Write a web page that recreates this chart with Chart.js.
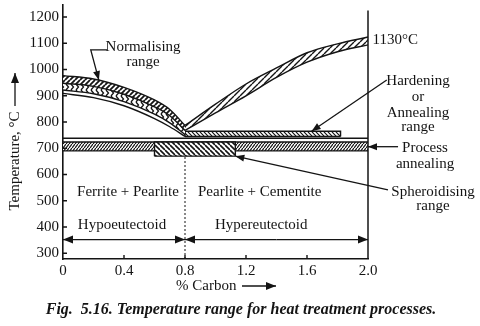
<!DOCTYPE html>
<html lang="en">
<head>
<meta charset="utf-8" />
<script src="https://cdn.jsdelivr.net/npm/chart.js@4.4.1/dist/chart.umd.min.js"></script>
<style>
  body { margin: 0; background: #fff; }
  #box { width: 480px; height: 326px; }
</style>
<title>Temperature range for heat treatment</title>
</head>
<body>
<div id="box"><canvas id="fig"></canvas></div>
<script>
// values: x = % carbon, y = temperature in °C
const carbonTicks = [0, 0.4, 0.8, 1.2, 1.6, 2.0];
const tempTicks = [300, 400, 500, 600, 700, 800, 900, 1000, 1100, 1200];
const tempMin = 278, tempMax = 1246, rightLineTop = 1225;

// hypoeutectoid side: A3 line, full annealing band, normalising band
const hypoC = [0, 0.2, 0.4, 0.6, 0.7, 0.8];
const a3Temp = [909, 893, 862, 813, 782, 745];
const annealLow = [922, 908, 878, 830, 797, 752];
const annealHigh = [948, 936, 906, 858, 824, 768];
const normalHigh = [977, 964, 932, 884, 848, 787];

// hypereutectoid side: Acm band up to 1130 °C
const hyperC = [0.8, 1.0, 1.2, 1.4, 1.6, 1.8, 2.0];
const acmLow = [768, 835, 900, 970, 1028, 1068, 1094];
const acmHigh = [787, 868, 945, 1006, 1064, 1098, 1124];

// straight bands: [from %C, to %C, low °C, high °C]
const hardening = [0.8, 1.82, 745, 765];
const processAnneal = [0, 2.0, 690, 724];
const spheroidise = [0.6, 1.13, 670, 724];
const a1Temp = 738;
const eutectoidC = 0.8;
const rangeArrowTemp = 352;

const INK = '#141414';
const FONT = '"Liberation Serif", "Times New Roman", serif';
const ctx = document.getElementById('fig').getContext('2d');

// hatch tiles, '/' or '\' lines on white
function hatch(w, h, lw, back) {
  const c = document.createElement('canvas');
  c.width = w; c.height = h;
  const g = c.getContext('2d');
  g.fillStyle = '#fff'; g.fillRect(0, 0, w, h);
  g.strokeStyle = INK; g.lineWidth = lw;
  g.beginPath();
  for (const k of [-1, 0, 1]) {
    if (back) { g.moveTo(0, k * h); g.lineTo(w, (k + 1) * h); }
    else { g.moveTo(0, (k + 1) * h); g.lineTo(w, k * h); }
  }
  g.stroke();
  return ctx.createPattern(c, 'repeat');
}
function chevron(w, h, lw) {
  const c = document.createElement('canvas');
  c.width = w; c.height = h;
  const g = c.getContext('2d');
  g.fillStyle = '#fff'; g.fillRect(0, 0, w, h);
  g.strokeStyle = INK; g.lineWidth = lw;
  g.beginPath();
  g.moveTo(1, 0); g.lineTo(w * 0.7, h / 2); g.lineTo(1, h);
  g.stroke();
  return ctx.createPattern(c, 'repeat');
}

const xy = (xs, ys) => xs.map((x, i) => ({ x, y: ys[i] }));
const lowEdge = b => xy([b[0], b[1]], [b[2], b[2]]);
const highEdge = b => xy([b[0], b[1]], [b[3], b[3]]);
const box = b => xy([b[0], b[0], b[1], b[1]], [b[2], b[3], b[3], b[2]]);

// rank = drawing sequence (0 first)
function curve(data, rank, extra) {
  return Object.assign({
    data, order: -rank, borderColor: INK, borderWidth: 1.4,
    pointRadius: 0, fill: false, clip: false
  }, extra);
}
const mono = { cubicInterpolationMode: 'monotone' };

const datasets = [
  curve(xy([eutectoidC, eutectoidC], [tempMin, spheroidise[2]]), 0, { borderDash: [2, 2], borderWidth: 1 }),
  curve(lowEdge(processAnneal), 2),
  curve(highEdge(processAnneal), 1, { fill: '-1', backgroundColor: hatch(3, 4, 1.2, false) }),
  curve(lowEdge(spheroidise), 4),
  curve(box(spheroidise), 3, { fill: '-1', backgroundColor: hatch(5, 5, 1.6, true) }),
  curve(xy([0, 2.0], [a1Temp, a1Temp]), 5),
  curve(lowEdge(hardening), 7),
  curve(box(hardening), 6, { fill: '-1', backgroundColor: hatch(4, 4, 1.2, true) }),
  curve(xy(hypoC, a3Temp), 8, mono),
  curve(xy(hypoC, annealLow), 11, mono),
  curve(xy(hypoC, annealHigh), 10, Object.assign({ fill: '-1', backgroundColor: chevron(5, 6, 1.3) }, mono)),
  curve(xy(hypoC, normalHigh), 9, Object.assign({ fill: '-1', backgroundColor: hatch(5, 5, 1.8, false) }, mono)),
  curve(xy(hyperC, acmLow), 13, mono),
  curve(xy(hyperC, acmHigh), 12, Object.assign({ fill: '-1', backgroundColor: hatch(6, 6, 1.4, false) }, mono)),
  curve(xy([2.0, 2.0], [tempMin, rightLineTop]), 14, { borderWidth: 1.5 })
];

// text labels, placed in data units (c = %C, t = °C)
const notes = [
  { text: 'Ferrite + Pearlite', c: 0.426, t: 535 },
  { text: 'Pearlite + Cementite', c: 1.29, t: 535 },
  { text: 'Hypoeutectoid', c: 0.387, t: 408 },
  { text: 'Hypereutectoid', c: 1.30, t: 408 },
  { text: 'Normalising', c: 0.525, t: 1086 },
  { text: 'range', c: 0.525, t: 1029 },
  { text: '1130°C', c: 2.03, t: 1113, align: 'left' },
  { text: 'Hardening', c: 2.328, t: 957 },
  { text: 'or', c: 2.328, t: 895 },
  { text: 'Annealing', c: 2.328, t: 836 },
  { text: 'range', c: 2.328, t: 779 },
  { text: 'Process', c: 2.374, t: 700 },
  { text: 'annealing', c: 2.374, t: 640 },
  { text: 'Spheroidising', c: 2.426, t: 533 },
  { text: 'range', c: 2.426, t: 478 }
];
const pointers = [
  [[0.29, 1075], [0.182, 1075], [0.235, 960]],
  [[2.123, 960], [1.63, 765]],
  [[2.197, 706], [2.0, 706]],
  [[2.131, 541], [1.13, 670]]
];
const spans = [[0, eutectoidC], [eutectoidC, 2.0]];

function arrow(g, pts, head = 9, half = 3.5) {
  g.beginPath();
  g.moveTo(pts[0][0], pts[0][1]);
  pts.slice(1).forEach(p => g.lineTo(p[0], p[1]));
  g.stroke();
  const [x1, y1] = pts[pts.length - 2], [x2, y2] = pts[pts.length - 1];
  const a = Math.atan2(y2 - y1, x2 - x1), cs = Math.cos(a), sn = Math.sin(a);
  g.beginPath();
  g.moveTo(x2, y2);
  g.lineTo(x2 - head * cs + half * sn, y2 - head * sn - half * cs);
  g.lineTo(x2 - head * cs - half * sn, y2 - head * sn + half * cs);
  g.closePath();
  g.fill();
}

const decor = {
  id: 'decor',
  afterDraw(chart) {
    const { ctx: g, chartArea: a, scales: { x, y } } = chart;
    const X = v => x.getPixelForValue(v), Y = v => y.getPixelForValue(v);
    g.save();
    g.strokeStyle = g.fillStyle = INK;
    g.lineWidth = 1.4;
    // inward tick marks
    g.beginPath();
    tempTicks.forEach(t => { g.moveTo(a.left, Y(t)); g.lineTo(a.left + 4, Y(t)); });
    carbonTicks.slice(1, -1).forEach(c => { g.moveTo(X(c), a.bottom); g.lineTo(X(c), a.bottom - 4); });
    g.stroke();

    g.font = '15px ' + FONT;
    g.textBaseline = 'middle';
    notes.forEach(n => {
      g.textAlign = n.align || 'center';
      g.fillText(n.text, X(n.c), Y(n.t));
    });

    g.lineWidth = 1.3;
    pointers.forEach(p => arrow(g, p.map(q => [X(q[0]), Y(q[1])])));
    spans.forEach(([c0, c1]) => {
      const m = (c0 + c1) / 2, yy = Y(rangeArrowTemp);
      arrow(g, [[X(m), yy], [X(c0), yy]], 10, 4);
      arrow(g, [[X(m), yy], [X(c1), yy]], 10, 4);
    });

    // axis titles
    g.textAlign = 'left';
    g.fillText('% Carbon', 176, 286);
    arrow(g, [[242, 286], [276, 286]], 10, 4);
    g.save();
    g.translate(15, 161);
    g.rotate(-Math.PI / 2);
    g.textAlign = 'center';
    g.fillText('Temperature, °C', 0, 0);
    g.restore();
    arrow(g, [[15, 106], [15, 73]], 10, 4);

    // caption
    g.font = 'italic bold 16px ' + FONT;
    g.textAlign = 'center';
    g.fillText('Fig.  5.16. Temperature range for heat treatment processes.', 241, 310);
    g.restore();
  }
};

new Chart(ctx, {
  type: 'line',
  data: { datasets },
  options: {
    responsive: true,
    maintainAspectRatio: false,
    animation: false,
    events: [],
    layout: { padding: { top: 5, right: 112, left: 0, bottom: 0 } },
    plugins: { legend: { display: false }, tooltip: { enabled: false } },
    scales: {
      x: {
        type: 'linear', min: 0, max: 2, z: 1,
        grid: { display: false, drawTicks: false },
        border: { color: INK, width: 1.6 },
        ticks: {
          color: INK, font: { family: FONT, size: 15 }, padding: 3,
          maxRotation: 0, autoSkip: false,
          callback: v => v === 0 ? '0' : v.toFixed(1)
        },
        afterBuildTicks: s => { s.ticks = carbonTicks.map(value => ({ value })); },
        afterFit: s => { s.height = 67; s.paddingLeft = 0; s.paddingRight = 0; }
      },
      y: {
        type: 'linear', min: tempMin, max: tempMax, z: 1,
        grid: { display: false, drawTicks: false },
        border: { color: INK, width: 1.6 },
        ticks: { color: INK, font: { family: FONT, size: 15 }, padding: 4, callback: v => String(v) },
        afterBuildTicks: s => { s.ticks = tempTicks.map(value => ({ value })); },
        afterFit: s => { s.width = 63; s.paddingTop = 0; s.paddingBottom = 0; }
      }
    }
  },
  plugins: [decor]
});
</script>
</body>
</html>
